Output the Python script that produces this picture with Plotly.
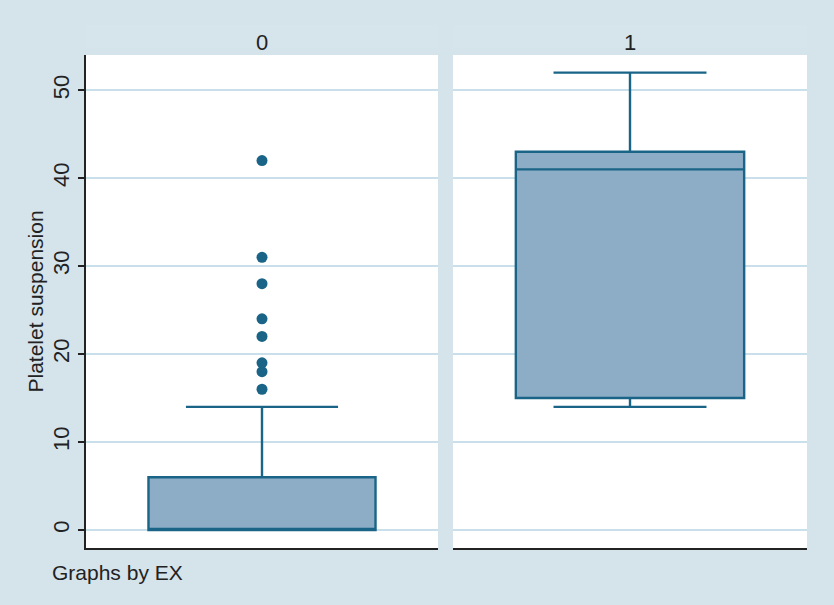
import plotly.graph_objects as go
from plotly.subplots import make_subplots

# Data
groups = ["0", "1"]
q1 = [0, 15]
median = [0, 41]
q3 = [6, 43]
lower_whisker = [0, 14]
upper_whisker = [14, 52]
outliers_group0 = [42, 31, 28, 24, 22, 19, 18, 16]
outliers_group1 = []
y_ticks = [0, 10, 20, 30, 40, 50]
y_title = "Platelet suspension"
note_text = "Graphs by EX"

BG = "#d5e3eb"
BOX_FILL = "#8dacc6"
BOX_LINE = "#1a6587"
GRID = "#c9dfe9"
AXIS = "#222222"
FONT = "Liberation Sans, Arial"
FS = 21

fig = make_subplots(rows=1, cols=2, shared_yaxes=True, horizontal_spacing=0.02)

outliers = [outliers_group0, outliers_group1]
for i, g in enumerate(groups):
    fig.add_trace(go.Box(
        x=[0], q1=[q1[i]], median=[median[i]], q3=[q3[i]],
        lowerfence=[lower_whisker[i]], upperfence=[upper_whisker[i]],
        fillcolor=BOX_FILL, line=dict(color=BOX_LINE, width=2.4),
        width=0.645, whiskerwidth=0.67, boxpoints=False,
        showlegend=False, hoverinfo="skip", name=g,
    ), row=1, col=i + 1)
    if outliers[i]:
        fig.add_trace(go.Scatter(
            x=[0] * len(outliers[i]), y=outliers[i], mode="markers",
            marker=dict(color=BOX_LINE, size=11), showlegend=False,
            hoverinfo="skip",
        ), row=1, col=i + 1)

W, H = 834, 605
dom0 = [86 / W, 438 / W]
dom1 = [453 / W, 807 / W]
ydom = [1 - 548 / H, 1 - 55 / H]

common_x = dict(range=[-0.5, 0.5], showticklabels=False, ticks="", showgrid=False,
                zeroline=False, showline=True, linecolor=AXIS, linewidth=2,
                fixedrange=True)
fig.update_layout(
    xaxis=dict(domain=dom0, **common_x),
    xaxis2=dict(domain=dom1, **common_x),
    yaxis=dict(domain=ydom, range=[-2.05, 54], tickvals=y_ticks,
               ticks="outside", ticklen=6, tickcolor=AXIS, tickwidth=1.5,
               tickangle=-90, showline=True, linecolor=AXIS, linewidth=2,
               showgrid=True, gridcolor=GRID, gridwidth=2, zeroline=False,
               tickfont=dict(family=FONT, size=FS + 1, color="#222")),
    yaxis2=dict(domain=ydom, range=[-2.05, 54], tickvals=y_ticks, showticklabels=False,
                ticks="", showline=False, showgrid=True, gridcolor=GRID, gridwidth=2,
                zeroline=False, matches="y"),
    width=W, height=H,
    margin=dict(l=0, r=0, t=0, b=0),
    paper_bgcolor=BG, plot_bgcolor="white",
)

# Y axis title
fig.add_annotation(x=35 / W, y=(ydom[0] + ydom[1]) / 2, xref="paper", yref="paper",
                   text=y_title, textangle=-90, showarrow=False,
                   xanchor="center", yanchor="middle",
                   font=dict(family=FONT, size=FS, color="#222"))

# Strip titles
for dom, g in zip([dom0, dom1], groups):
    fig.add_shape(type="rect", xref="paper", yref="paper",
                  x0=dom[0], x1=dom[1], y0=1 - 48 / H, y1=1 - 25 / H,
                  fillcolor="#d6e4eb", line=dict(width=0), layer="below")
    fig.add_annotation(x=(dom[0] + dom[1]) / 2, y=1 - 42 / H, xref="paper", yref="paper",
                       text=g, showarrow=False, xanchor="center", yanchor="middle",
                       font=dict(family=FONT, size=FS + 1, color="#222"))

fig.add_annotation(x=50 / W, y=1 - 572 / H, xref="paper", yref="paper",
                   text=note_text, showarrow=False, xanchor="left", yanchor="middle",
                   font=dict(family=FONT, size=FS, color="#222"))

fig.write_html("out.html", config={"displayModeBar": False})

# remove default page margin so the figure fills the window exactly
with open("out.html", "r", encoding="utf-8") as f:
    html = f.read()
html = html.replace("<head>", "<head><style>html,body{margin:0;padding:0;overflow:hidden;}</style>", 1)
with open("out.html", "w", encoding="utf-8") as f:
    f.write(html)
